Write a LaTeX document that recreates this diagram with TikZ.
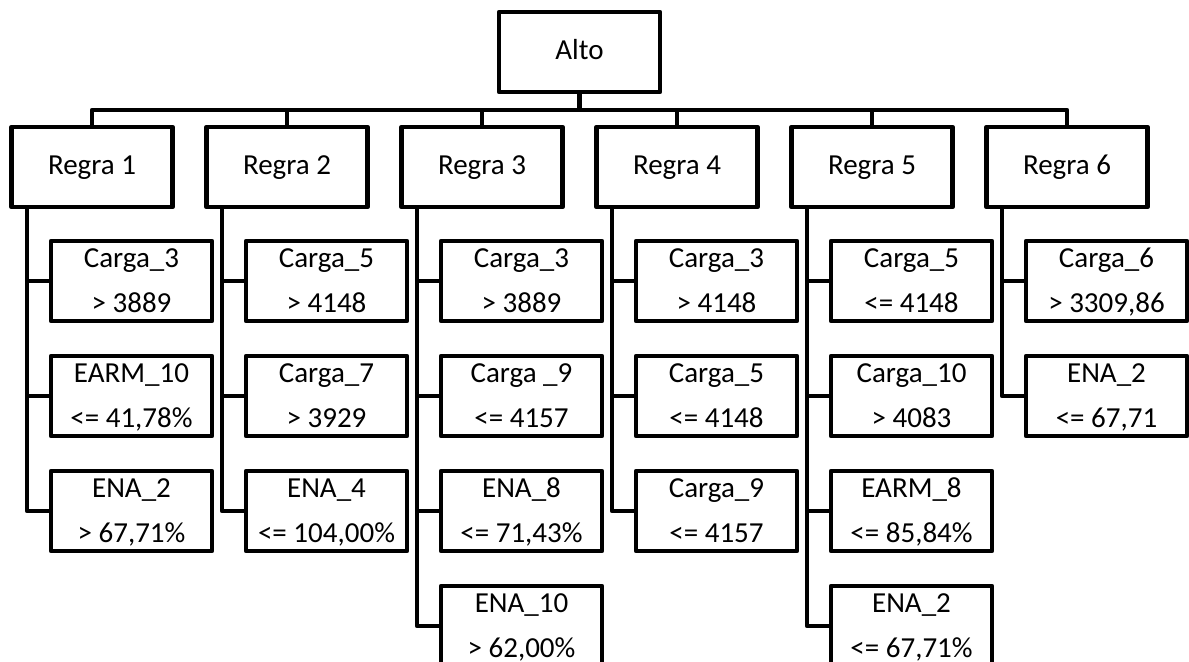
\documentclass[tikz,border=0pt]{standalone}
\usepackage{fontspec}
\setmainfont{Carlito}
\tikzset{
  box/.style={draw, line width=2.3pt, line join=round, rectangle, inner sep=0pt,
    outer sep=0pt, minimum width=80.5pt, minimum height=40pt},
  head/.style={box, font=\fontsize{14.5}{17}\selectfont, text height=9pt, text depth=1pt},
  leaf/.style={box, font=\fontsize{14.5}{22.5}\selectfont, align=center, inner ysep=-2.5pt},
  link/.style={line width=2.3pt, line join=round},
}
% two-line condition text with fixed line positions
\newcommand\cond[2]{\strut#1\\\strut#2}
\begin{document}
\begin{tikzpicture}[x=0.5pt, y=-0.5pt]
\useasboundingbox (0,0) rectangle (1189,662);
\clip (0,0) rectangle (1189,662);

% root and rules
\node[head] (alto) at (579.5,52) {Alto};
\coordinate (bus) at (579.5,110);
\node[head] (r1) at (92,167)  {Regra 1};
\node[head] (r2) at (287,167) {Regra 2};
\node[head] (r3) at (482,167) {Regra 3};
\node[head] (r4) at (677,167) {Regra 4};
\node[head] (r5) at (872,167) {Regra 5};
\node[head] (r6) at (1067,167) {Regra 6};

% conditions of each rule
\node[leaf] (r1a) at (131.5,281) {\cond{Carga\_3}{> 3889}};
\node[leaf] (r1b) at (131.5,396) {\cond{EARM\_10}{<= 41,78\%}};
\node[leaf] (r1c) at (131.5,511) {\cond{ENA\_2}{> 67,71\%}};

\node[leaf] (r2a) at (326.5,281) {\cond{Carga\_5}{> 4148}};
\node[leaf] (r2b) at (326.5,396) {\cond{Carga\_7}{> 3929}};
\node[leaf] (r2c) at (326.5,511) {\cond{ENA\_4}{<= 104,00\%}};

\node[leaf] (r3a) at (521.5,281) {\cond{Carga\_3}{> 3889}};
\node[leaf] (r3b) at (521.5,396) {\cond{Carga \_9}{<= 4157}};
\node[leaf] (r3c) at (521.5,511) {\cond{ENA\_8}{<= 71,43\%}};
\node[leaf] (r3d) at (521.5,626) {\cond{ENA\_10}{> 62,00\%}};

\node[leaf] (r4a) at (716.5,281) {\cond{Carga\_3}{> 4148}};
\node[leaf] (r4b) at (716.5,396) {\cond{Carga\_5}{<= 4148}};
\node[leaf] (r4c) at (716.5,511) {\cond{Carga\_9}{<= 4157}};

\node[leaf] (r5a) at (911.5,281) {\cond{Carga\_5}{<= 4148}};
\node[leaf] (r5b) at (911.5,396) {\cond{Carga\_10}{> 4083}};
\node[leaf] (r5c) at (911.5,511) {\cond{EARM\_8}{<= 85,84\%}};
\node[leaf] (r5d) at (911.5,626) {\cond{ENA\_2}{<= 67,71\%}};

\node[leaf] (r6a) at (1106.5,281) {\cond{Carga\_6}{> 3309,86}};
\node[leaf] (r6b) at (1106.5,396) {\cond{ENA\_2}{<= 67,71}};

% root to rules
\draw[link] (alto.south) -- (bus);
\draw[link] (r1.north) |- (bus) -| (r6.north);
\foreach \r in {r2,r3,r4,r5}
  \draw[link] (\r.north) -- (\r.north |- bus);

% spines from each rule to its conditions
\foreach \r/\kids in {r1/{a,b,c}, r2/{a,b,c}, r3/{a,b,c,d}, r4/{a,b,c}, r5/{a,b,c,d}, r6/{a,b}} {
  \coordinate (\r s) at ([xshift=7.75pt]\r.south west);
  \foreach \k in \kids
    \draw[link] (\r s) |- (\r\k.west);
}
\end{tikzpicture}
\end{document}
